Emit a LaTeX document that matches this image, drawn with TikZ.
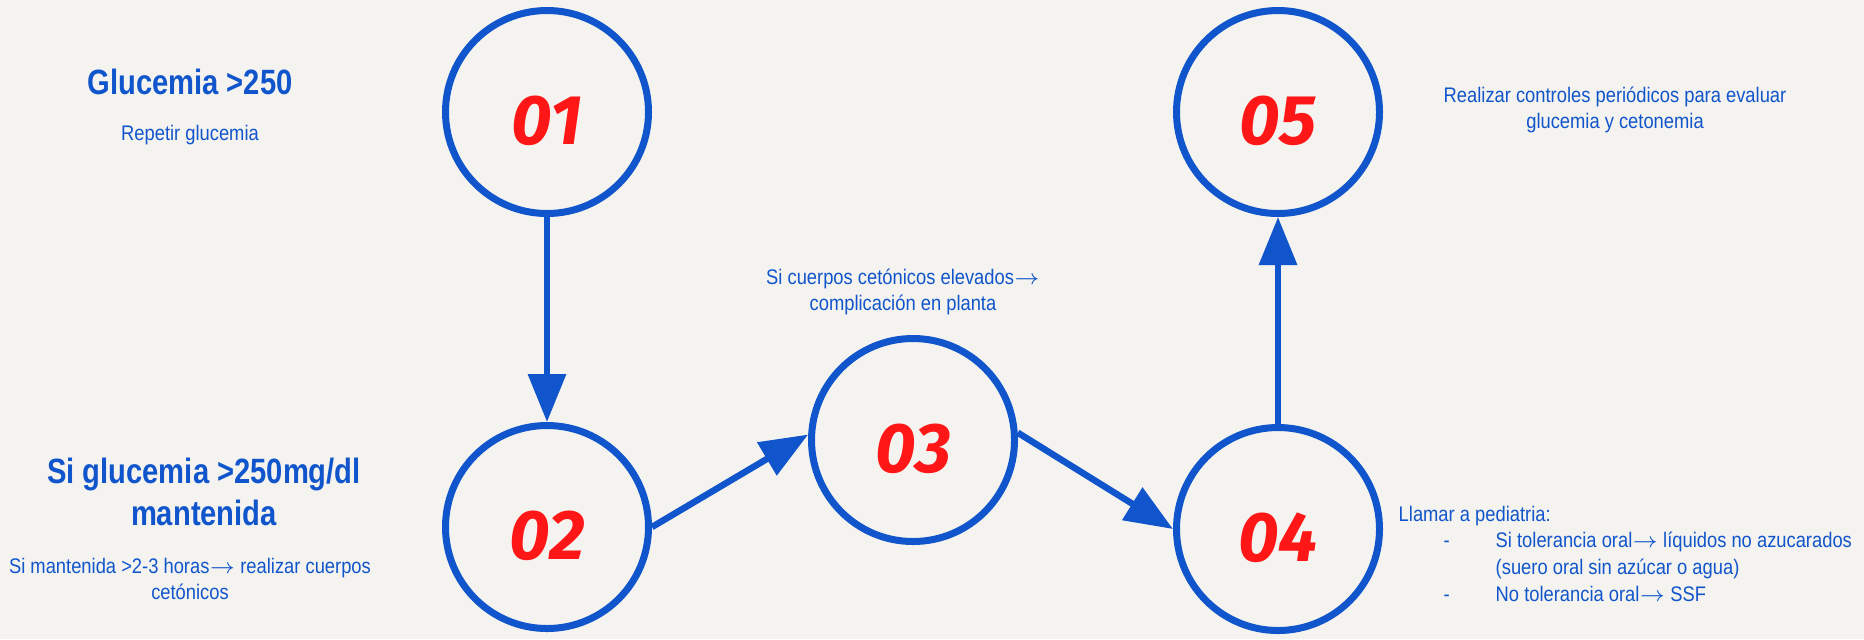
\documentclass[tikz,border=0pt]{standalone}
\usepackage{fontspec}
\setmainfont{Liberation Sans}[FakeStretch=0.87]
\newfontfamily\headfont{Liberation Sans}[FakeStretch=0.83]
\newfontfamily\numfont{Fira Sans}
\usetikzlibrary{arrows.meta}
\definecolor{inkblue}{RGB}{17,85,204}
\definecolor{inkred}{RGB}{255,22,22}
\definecolor{paper}{RGB}{244,243,239}
\newcommand\goto{$\rightarrow$}
\begin{document}
\begin{tikzpicture}[x=0.1mm,y=-0.1mm,
  stage/.style={circle,draw=inkblue,line width=0.7mm,minimum size=20.3mm,inner sep=0pt,
    text height=6.5mm,text depth=0pt,
    text=inkred,font=\numfont\bfseries\itshape\fontsize{20}{20}\selectfont},
  flow/.style={draw=inkblue,line width=0.65mm,-{Triangle[length=4.8mm,width=3.7mm]}},
  head/.style={text=inkblue,inner sep=0pt,align=center,font=\headfont\bfseries\fontsize{10}{11.9}\selectfont},
  note/.style={text=inkblue,inner sep=0pt,font=\fontsize{6}{7.6}\selectfont}]
\def\dash{\makebox[9.7mm][l]{\hspace*{4.5mm}-}}
\fill[paper] (0,0) rectangle (1864,639);

\node[stage] (n01) at (547,112) {01};
\node[stage] (n02) at (547,527) {02};
\node[stage] (n03) at (913,440) {03};
\node[stage] (n04) at (1278,529) {04};
\node[stage] (n05) at (1278,112) {05};

\draw[flow] (n01) -- (n02);
\draw[flow] (n02.east) -- (n03.177);
\draw[flow] (n03.4) -- (n04.west);
\draw[flow] (n04) -- (n05);

\node[head,anchor=base] (t01) at (190,94) {Glucemia >250};
\node[note,anchor=base] (s01) at (190,140) {Repetir glucemia};
\node[head,anchor=north] (t02) at (204,457) {Si glucemia >250mg/dl\\mantenida};
\node[note,align=center,anchor=north] (s02) at (190,557) {Si mantenida >2-3 horas\goto{} realizar cuerpos\\cetónicos};
\node[note,align=center,anchor=north] (s03) at (903,268) {Si cuerpos cetónicos elevados\goto\\complicación en planta};
\node[note,align=left,anchor=north west] (s04) at (1398,505) {Llamar a pediatria:\\
  \dash Si tolerancia oral\goto{} líquidos no azucarados\\
  \hspace*{9.7mm}(suero oral sin azúcar o agua)\\
  \dash No tolerancia oral\goto{} SSF};
\node[note,align=center,anchor=north] (s05) at (1615,86) {Realizar controles periódicos para evaluar\\glucemia y cetonemia};
\end{tikzpicture}
\end{document}
